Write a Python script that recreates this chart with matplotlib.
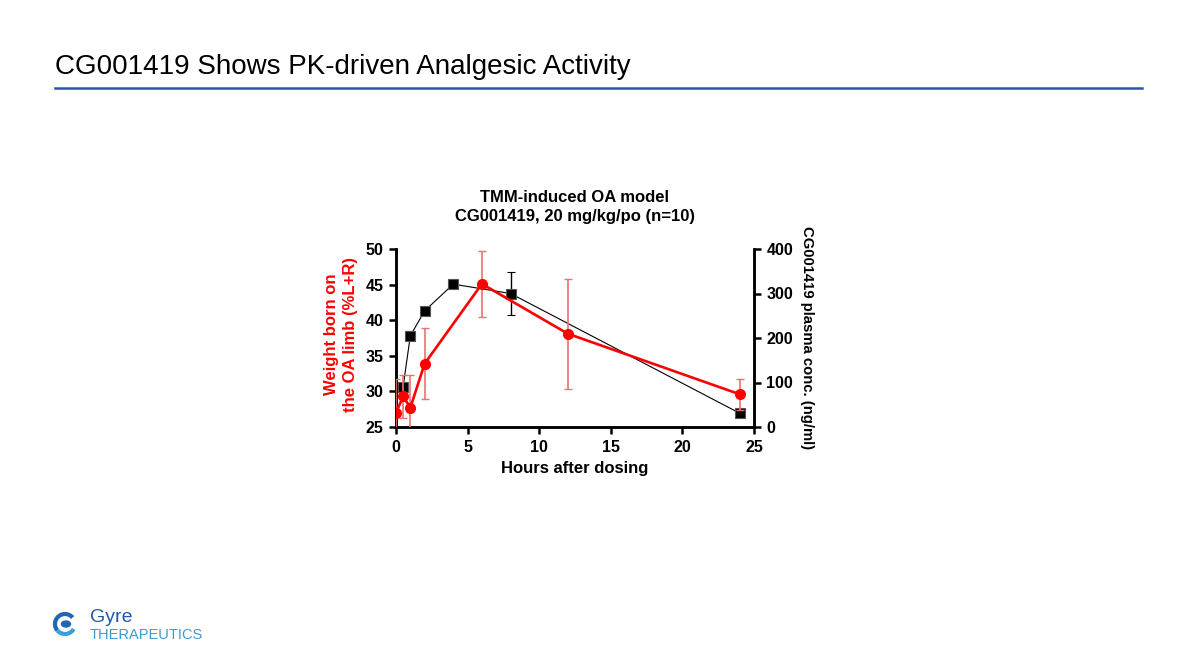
import numpy as np
import matplotlib.pyplot as plt
from matplotlib.patches import Arc, Ellipse

# weight bearing (left axis, %L+R)
wb_hours = [0, 0.5, 1, 2, 6, 12, 24]
wb_mean = [27.0, 29.3, 27.7, 33.9, 45.1, 38.1, 29.6]
wb_err = [4.7, 3.0, 4.6, 5.0, 4.6, 7.7, 2.2]

# plasma concentration (right axis, ng/ml)
pk_hours = [0.5, 1, 2, 4, 8, 24]
pk_mean = [91, 205, 261, 321, 300, 31]
pk_err = [4, 10, 4, 6, 48, 4]

plt.rcParams['font.family'] = ['Liberation Sans', 'DejaVu Sans']

fig = plt.figure(figsize=(11.96, 6.72), dpi=100)

# slide header
fig.text(55 / 1196, 1 - 67 / 672, 'CG001419 Shows PK-driven Analgesic Activity',
         fontsize=20, va='center', ha='left', color='black')
fig.add_artist(plt.Line2D([55 / 1196, 1142 / 1196], [1 - 88 / 672, 1 - 88 / 672],
                          color='#2a55ad', lw=1.8))

# chart
ax1 = fig.add_axes([396 / 1196, 1 - 427 / 672, (754 - 396) / 1196, (427 - 249) / 672])
ax2 = ax1.twinx()

ax2.errorbar(pk_hours, pk_mean, yerr=pk_err, color='black', lw=0.8,
             marker='s', ms=6.5, mfc='black', mec='#555555', mew=0.8,
             ecolor='black', elinewidth=1, capsize=3, clip_on=False, zorder=2)
ax1.errorbar(wb_hours, wb_mean, yerr=wb_err, color='#ff0000', lw=1.9,
             marker='o', ms=7, mec='#ff0000', ecolor='#f07070', elinewidth=1.2,
             capsize=3, zorder=3)

ax1.set_zorder(ax2.get_zorder() + 1)
ax1.patch.set_visible(False)

ax1.set_xlim(0, 25)
ax1.set_ylim(25, 50)
ax2.set_ylim(0, 400)
ax1.set_xticks([0, 5, 10, 15, 20, 25])
ax1.set_yticks([25, 30, 35, 40, 45, 50])
ax2.set_yticks([0, 100, 200, 300, 400])

for ax in (ax1, ax2):
    ax.spines['top'].set_visible(False)
    for s in ('left', 'right', 'bottom'):
        ax.spines[s].set_linewidth(1.8)
    ax.tick_params(width=1.8, length=5, labelsize=11.5, pad=4)
    for lab in ax.get_xticklabels() + ax.get_yticklabels():
        lab.set_fontweight('bold')

ax1.set_xlabel('Hours after dosing', fontsize=12, fontweight='bold', labelpad=5)
ax1.set_ylabel('Weight born on\nthe OA limb (%L+R)', fontsize=12, fontweight='bold',
               color='#ff0000', linespacing=1.35)
ax1.yaxis.set_label_coords(-0.106, 0.52)
ax2.set_ylabel('CG001419 plasma conc. (ng/ml)', fontsize=10.7, fontweight='bold',
               rotation=270, labelpad=15)
ax1.set_title('TMM-induced OA model\nCG001419, 20 mg/kg/po (n=10)', fontsize=12,
              fontweight='bold', pad=20, linespacing=1.35)

# logo
lax = fig.add_axes([50 / 1196, 1 - 650 / 672, 160 / 1196, 45 / 672])
lax.set_xlim(0, 160)
lax.set_ylim(0, 45)
lax.axis('off')
lax.add_patch(Arc((15, 26), 20, 20, theta1=40, theta2=220, color='#1f67b1', lw=3))
lax.add_patch(Arc((15, 26), 20, 20, theta1=220, theta2=330, color='#3aa0dc', lw=3))
lax.add_patch(Ellipse((16, 26), 9, 6, color='#1f67b1'))
lax.text(40, 33, 'Gyre', fontsize=14, color='#1f5aa8', va='center', ha='left')
lax.text(40, 15, 'THERAPEUTICS', fontsize=10.5, color='#3a9bd5', va='center', ha='left')

fig.savefig('out.png', dpi=100)
